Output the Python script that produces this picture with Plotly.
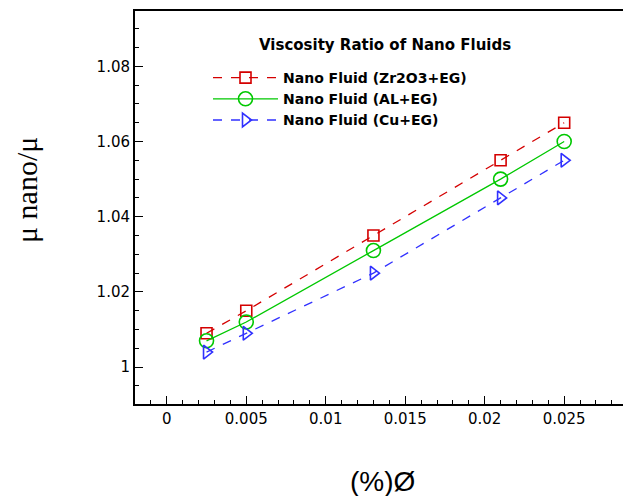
import plotly.graph_objects as go

x_vals = [0.0025, 0.005, 0.013, 0.021, 0.025]
zr_vals = [1.009, 1.015, 1.035, 1.055, 1.065]
al_vals = [1.007, 1.012, 1.031, 1.050, 1.060]
cu_vals = [1.004, 1.009, 1.025, 1.045, 1.055]
names = ["Nano Fluid (Zr2O3+EG)", "Nano Fluid (AL+EG)", "Nano Fluid (Cu+EG)"]
x_ticks = [0, 0.005, 0.01, 0.015, 0.02, 0.025]
x_tick_text = ["0", "0.005", "0.01", "0.015", "0.02", "0.025"]
y_ticks = [1.0, 1.02, 1.04, 1.06, 1.08]
y_tick_text = ["1", "1.02", "1.04", "1.06", "1.08"]

W, H = 623, 496
L, R, T, B = 135, 0, 11, 92
PW, PH = W - L - R, H - T - B

def px(xp):
    return (xp - L) / PW

def py(yp):
    return 1 - (yp - T) / PH

fig = go.Figure()
fig.add_trace(go.Scatter(x=x_vals, y=zr_vals, name=names[0], mode="lines+markers",
                         line=dict(color="#D40000", width=1.3, dash="dash"),
                         marker=dict(symbol="square-open", size=11, color="#D40000", line=dict(width=1.6))))
fig.add_trace(go.Scatter(x=x_vals, y=al_vals, name=names[1], mode="lines+markers",
                         line=dict(color="#00C800", width=1.3),
                         marker=dict(symbol="circle-open", size=14, color="#00C800", line=dict(width=1.6))))
fig.add_trace(go.Scatter(x=x_vals, y=cu_vals, name=names[2], mode="lines+markers",
                         line=dict(color="#3030FF", width=1.3, dash="dash"),
                         marker=dict(symbol="triangle-right-open", size=12, color="#3030FF", line=dict(width=1.6))))

tick_font = dict(size=15, family="DejaVu Sans", color="black")

fig.update_layout(
    width=W, height=H,
    margin=dict(l=L, r=R, t=T, b=B, autoexpand=False),
    paper_bgcolor="white", plot_bgcolor="white",
    font=dict(family="DejaVu Sans", color="black"),
    showlegend=True,
    legend=dict(x=px(208), y=py(62), xanchor="left", yanchor="top",
                font=dict(family="DejaVu Sans", size=14, color="black", weight="bold"),
                bgcolor="rgba(0,0,0,0)", tracegroupgap=0, itemwidth=65),
    xaxis=dict(range=[-0.002, 0.0287], tickvals=x_ticks, ticktext=x_tick_text,
               ticks="inside", ticklen=8, tickwidth=1.3, tickcolor="black",
               showline=True, linecolor="black", linewidth=2, mirror=True,
               showgrid=False, zeroline=False, tickfont=tick_font,
               minor=dict(ticks="inside", ticklen=4, dtick=0.001, tick0=0, tickcolor="black", showgrid=False)),
    yaxis=dict(range=[0.9902, 1.0947], tickvals=y_ticks, ticktext=y_tick_text,
               ticks="inside", ticklen=8, tickwidth=1.3, tickcolor="black",
               showline=True, linecolor="black", linewidth=2,
               showgrid=False, zeroline=False, tickfont=tick_font,
               minor=dict(ticks="inside", ticklen=4, dtick=0.005, tick0=1.0, tickcolor="black", showgrid=False)),
    annotations=[
        dict(text="<b>Viscosity Ratio of Nano Fluids</b>", x=px(385), y=py(45), xref="paper", yref="paper",
             xanchor="center", yanchor="middle",
             showarrow=False, font=dict(size=15, family="DejaVu Sans")),
        dict(text="μ nano/μ", x=px(26), y=py(190), xref="paper", yref="paper", textangle=-90,
             xanchor="center", yanchor="middle",
             showarrow=False, font=dict(size=30, family="Liberation Serif, Times New Roman")),
        dict(text="(%)Ø", x=px(382), y=py(499), xref="paper", yref="paper", xanchor="center", yanchor="bottom",
             showarrow=False, font=dict(size=28, family="Liberation Sans, Arial")),
    ],
)

fig.write_html("out.html", config={"displayModeBar": False},
               post_script="document.body.style.margin='0px';document.body.style.overflow='hidden';")
